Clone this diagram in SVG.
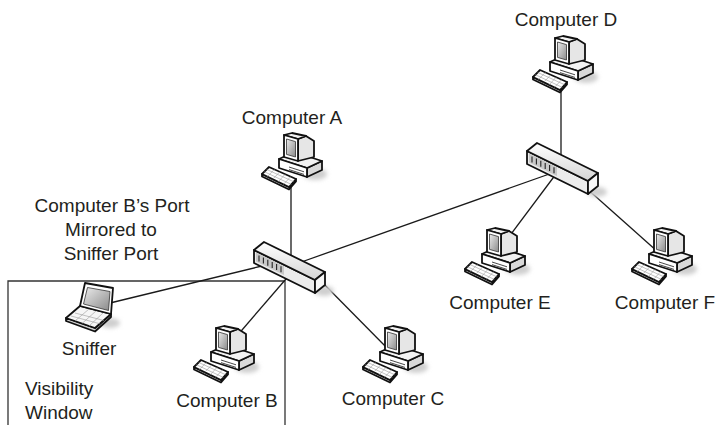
<svg xmlns="http://www.w3.org/2000/svg" xmlns:xlink="http://www.w3.org/1999/xlink" width="715" height="425" viewBox="0 0 715 425">
<defs>
<style>
.lbl{font-family:"Liberation Sans",Arial,sans-serif;font-size:19px;fill:#231f20;text-anchor:middle}
.lblL{font-family:"Liberation Sans",Arial,sans-serif;font-size:19px;fill:#231f20;text-anchor:start}
.link{stroke:#1a1a1a;stroke-width:1.3;fill:none}
.ol{stroke:#111;stroke-width:1.8;stroke-linejoin:round;stroke-linecap:round}
.key{stroke:#9a9a9a;stroke-width:0.6;fill:none}
.box{stroke:#333;stroke-width:1.3;fill:none}
</style>
<linearGradient id="scr" x1="0" y1="0" x2="1" y2="1"><stop offset="0" stop-color="#ececec"/><stop offset="1" stop-color="#8a8a8a"/></linearGradient>
<linearGradient id="swtop" x1="0" y1="0" x2="0" y2="1"><stop offset="0" stop-color="#ffffff"/><stop offset="1" stop-color="#d4d4d4"/></linearGradient>
<filter id="blur" x="-50%" y="-50%" width="200%" height="200%"><feGaussianBlur stdDeviation="2"/></filter>
<g id="pc">
 <ellipse cx="53" cy="40" rx="12" ry="6" fill="#cfcfcf" filter="url(#blur)"/>
 <polygon class="ol" points="45,34 60,27 60,36 45,43" fill="#d9d9d9"/>
 <polygon class="ol" points="17,25 32,18 60,27 45,34" fill="#f2f2f2"/>
 <polygon class="ol" points="17,25 45,34 45,43 17,34" fill="#fff"/>
 <line x1="27" y1="33" x2="42" y2="37.8" stroke="#333" stroke-width="0.9"/>
 <line x1="27" y1="35.6" x2="42" y2="40.4" stroke="#333" stroke-width="0.9"/>
 <polygon class="ol" points="36,5 44,2 52,7 52,23 36,27" fill="#e6e6e6"/>
 <polygon class="ol" points="22,1 30,-1 44,2 36,5" fill="#f4f4f4"/>
 <polygon class="ol" points="22,1 36,5 36,27 22,23" fill="#fff"/>
 <polygon points="24.5,5 33.5,7.6 33.5,23 24.5,20.4" fill="url(#scr)" stroke="#333" stroke-width="0.8"/>
 <polygon class="ol" points="0,40 0,42.5 27,55.5 34,47.5 34,45 27,53" fill="#cfcfcf"/>
 <polygon class="ol" points="0,40 7,33 34,45 27,53" fill="#fff"/>
 <line class="key" x1="2.3" y1="37.7" x2="29.3" y2="50.4"/>
 <line class="key" x1="4.6" y1="35.4" x2="31.6" y2="47.7"/>
 <line class="key" x1="5.4" y1="42.6" x2="12.4" y2="35.4"/>
 <line class="key" x1="10.8" y1="45.2" x2="17.8" y2="37.8"/>
 <line class="key" x1="16.2" y1="47.8" x2="23.2" y2="40.2"/>
 <line class="key" x1="21.6" y1="50.4" x2="28.6" y2="42.6"/>
</g>
<g id="sw">
 <ellipse cx="70" cy="41" rx="10" ry="5" fill="#cfcfcf" filter="url(#blur)"/>
 <polygon class="ol" points="0,0 61,30 61,43 0,13" fill="#ececec"/>
 <polygon points="2,2.5 30,16.2 30,25 2,11.5" fill="#c8c8c8"/>
 <polygon class="ol" points="0,0 10,-8 71,22 61,30" fill="url(#swtop)"/>
 <polygon class="ol" points="61,30 71,22 71,35 61,43" fill="#f8f8f8"/>
 <g stroke="#222" stroke-width="1.1">
  <line x1="5" y1="5.5" x2="5" y2="11.5"/>
  <line x1="9.4" y1="7.6" x2="9.4" y2="13.6"/>
  <line x1="13.8" y1="9.8" x2="13.8" y2="15.8"/>
  <line x1="18.2" y1="12" x2="18.2" y2="18"/>
  <line x1="22.6" y1="14.1" x2="22.6" y2="20.1"/>
  <line x1="27" y1="16.3" x2="27" y2="22.3"/>
 </g>
</g>
</defs>
<rect width="715" height="425" fill="#fff"/>

<g id="visibility-window">
 <path class="box" d="M8,426 V281 H285 V426"/>
 <text class="lblL" x="25" y="395">Visibility</text>
 <text class="lblL" x="25" y="419">Window</text>
</g>

<g id="connectors">
 <line class="link" x1="291" y1="180" x2="291" y2="258"/>
 <line class="link" x1="561" y1="80" x2="561" y2="158"/>
 <line class="link" x1="300" y1="262.5" x2="555" y2="172"/>
 <line class="link" x1="262" y1="266" x2="110" y2="303"/>
 <line class="link" x1="292" y1="272" x2="236" y2="337"/>
 <line class="link" x1="310" y1="270" x2="390" y2="351"/>
 <line class="link" x1="556" y1="174" x2="508" y2="238"/>
 <line class="link" x1="585" y1="187" x2="658" y2="252"/>
</g>

<g id="switch-1"><use xlink:href="#sw" transform="translate(254,250)"/></g>
<g id="switch-2"><use xlink:href="#sw" transform="translate(527,151)"/></g>

<g id="computer-a">
 <use xlink:href="#pc" transform="translate(262,134)"/>
 <text class="lbl" x="292" y="124">Computer A</text>
</g>
<g id="computer-d">
 <use xlink:href="#pc" transform="translate(533,37)"/>
 <text class="lbl" x="566" y="26">Computer D</text>
</g>
<g id="computer-e">
 <use xlink:href="#pc" transform="translate(465,229)"/>
 <text class="lbl" x="500" y="309">Computer E</text>
</g>
<g id="computer-f">
 <use xlink:href="#pc" transform="translate(632,229)"/>
 <text class="lbl" x="665" y="309">Computer F</text>
</g>
<g id="computer-c">
 <use xlink:href="#pc" transform="translate(363,327)"/>
 <text class="lbl" x="393" y="405">Computer C</text>
</g>
<g id="computer-b">
 <use xlink:href="#pc" transform="translate(194,327)"/>
 <text class="lbl" x="227" y="407">Computer B</text>
</g>

<g id="sniffer">
 <ellipse cx="110" cy="323" rx="10" ry="5" fill="#cfcfcf" filter="url(#blur)"/>
 <polygon class="ol" points="66,318 66,321 95,331.5 111,317 111,314 95,328" fill="#cfcfcf"/>
 <polygon class="ol" points="80,306 111,314 95,328 66,318" fill="#f6f6f6"/>
 <g class="key">
  <line x1="75" y1="313" x2="104" y2="320.5"/>
  <line x1="71" y1="316" x2="100" y2="323.8"/>
  <line x1="75" y1="321" x2="89" y2="309"/>
  <line x1="82" y1="323.5" x2="96" y2="311"/>
  <line x1="89" y1="326" x2="103" y2="313"/>
 </g>
 <polygon class="ol" points="85,283 113,288 111,314 80,306" fill="#fff"/>
 <polygon points="87.5,287.5 110,291.5 108.5,310.5 83.5,304" fill="url(#scr)" stroke="#333" stroke-width="0.8"/>
 <text class="lbl" x="89" y="355">Sniffer</text>
</g>

<g id="mirror-note">
 <text class="lbl" x="112" y="212">Computer B’s Port</text>
 <text class="lbl" x="111" y="236">Mirrored to</text>
 <text class="lbl" x="111" y="260">Sniffer Port</text>
</g>
</svg>
